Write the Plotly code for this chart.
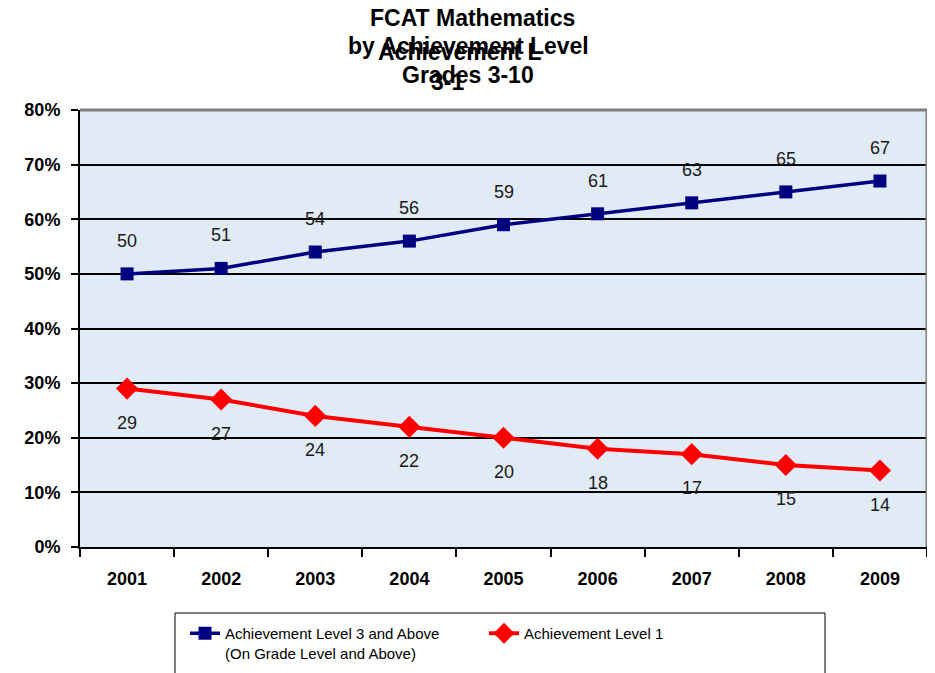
import plotly.graph_objects as go

years = ["2001", "2002", "2003", "2004", "2005", "2006", "2007", "2008", "2009"]
level3_above = [50, 51, 54, 56, 59, 61, 63, 65, 67]
level1 = [29, 27, 24, 22, 20, 18, 17, 15, 14]
y_ticks = [0, 10, 20, 30, 40, 50, 60, 70, 80]
y_tick_labels = ["0%", "10%", "20%", "30%", "40%", "50%", "60%", "70%", "80%"]

FONT = "Arial, Liberation Sans, sans-serif"
NAVY = "#000080"
RED = "#FF0000"

# page body margin shifts the figure by 8px; targets below are screen pixels
OFF = 8
W, H = 935, 673
L = 80 - OFF
T = 110 - OFF
R = W - (927 - OFF)
B = H - (547 - OFF)
PW = W - L - R
PH = H - T - B

def px_x(px):
    return (px - OFF - L) / PW

def px_y(py):
    return (H - B - (py - OFF)) / PH

fig = go.Figure()
fig.add_trace(go.Scatter(
    x=years, y=level3_above, mode="lines+markers",
    name="Achievement Level 3 and Above<br>(On Grade Level and Above)",
    line=dict(color=NAVY, width=3.5),
    marker=dict(symbol="square", size=13, color=NAVY),
))
fig.add_trace(go.Scatter(
    x=years, y=level1, mode="lines+markers",
    name="Achievement Level 1",
    line=dict(color=RED, width=4),
    marker=dict(symbol="diamond", size=17, color=RED),
))

annotations = []
for i, v in enumerate(level3_above):
    annotations.append(dict(xref="x", yref="y", x=i, y=v, text=str(v), showarrow=False, yshift=33,
                            font=dict(family=FONT, size=18, color="#1a1a1a")))
for i, v in enumerate(level1):
    annotations.append(dict(xref="x", yref="y", x=i, y=v, text=str(v), showarrow=False, yshift=-34,
                            font=dict(family=FONT, size=18, color="#1a1a1a")))

title_font = dict(family=FONT, size=23, color="black")
annotations += [
    dict(xref="paper", yref="paper", x=px_x(472), y=1, yshift=92, text="<b>FCAT Mathematics</b>",
         showarrow=False, font=title_font, xanchor="center", yanchor="middle"),
    dict(xref="paper", yref="paper", x=px_x(468), y=1, yshift=64, text="<b>by Achievement Level</b>",
         showarrow=False, font=title_font, xanchor="center", yanchor="middle"),
    dict(xref="paper", yref="paper", x=px_x(376), y=1, yshift=58, text="<b>Achievement L</b>",
         showarrow=False, font=title_font, xanchor="left", yanchor="middle"),
    dict(xref="paper", yref="paper", x=px_x(468), y=1, yshift=35, text="<b>Grades 3-10</b>",
         showarrow=False, font=title_font, xanchor="center", yanchor="middle"),
    dict(xref="paper", yref="paper", x=px_x(429), y=1, yshift=28, text="<b>3-1</b>",
         showarrow=False, font=title_font, xanchor="left", yanchor="middle"),
]

fig.update_layout(
    width=W, height=H,
    margin=dict(l=L, r=R, t=T, b=B, autoexpand=False),
    paper_bgcolor="white",
    plot_bgcolor="#E1EBF5",
    font=dict(family=FONT, color="black"),
    showlegend=True,
    legend=dict(
        orientation="h", x=px_x(185), y=px_y(617),
        xanchor="left", yanchor="top",
        borderwidth=0, bgcolor="rgba(0,0,0,0)",
        font=dict(family=FONT, size=15, color="black"),
        entrywidth=254, valign="top",
        traceorder="normal",
    ),
    annotations=annotations,
    shapes=[
        dict(type="line", xref="paper", yref="paper", x0=0, x1=1, y0=1, y1=1,
             line=dict(color="#808080", width=3)),
        dict(type="line", xref="paper", yref="paper", x0=1, x1=1, y0=0, y1=1,
             line=dict(color="#808080", width=3)),
        dict(type="rect", xref="paper", yref="paper", x0=px_x(175), x1=px_x(825),
             y0=px_y(613), y1=px_y(700), line=dict(color="black", width=1)),
    ],
)

fig.update_xaxes(
    type="category", categoryorder="array", categoryarray=years,
    tickson="boundaries", ticks="outside", ticklen=8, tickwidth=2, tickcolor="black",
    showline=True, linecolor="black", linewidth=2,
    showgrid=False, zeroline=False, automargin=False,
    tickfont=dict(family=FONT, size=18, color="black"),
    tickprefix="<b>", ticksuffix="</b>",
    ticklabelstandoff=14,
    range=[-0.5, 8.5],
)
fig.update_yaxes(
    range=[0, 80], tickvals=y_ticks, ticktext=["<b>%s</b>" % t for t in y_tick_labels],
    ticks="outside", ticklen=7, tickwidth=2, tickcolor="black",
    showline=True, linecolor="black", linewidth=2,
    showgrid=True, gridcolor="black", gridwidth=1.5,
    zeroline=False, automargin=False,
    tickfont=dict(family=FONT, size=18, color="black"),
    ticklabelstandoff=7,
)

fig.write_html("out.html")
